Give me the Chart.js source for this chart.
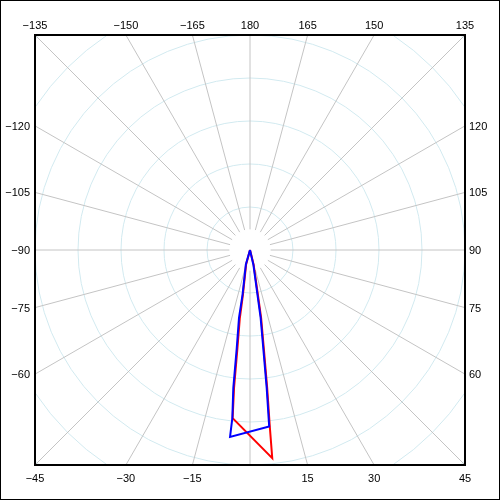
<!DOCTYPE html>
<html>
<head>
<meta charset="utf-8">
<script src="https://cdn.jsdelivr.net/npm/chart.js@4.4.1/dist/chart.umd.min.js"></script>
<style>
  html, body { margin: 0; padding: 0; background: #fff; }
</style>
</head>
<body>
<canvas id="polar" width="500" height="500"></canvas>
<script>
// angle tick labels round the square (0 is not labelled in the original)
const angleTicks = [-165, -150, -135, -120, -105, -90, -75, -60, -45, -30, -15, 15, 30, 45, 60, 75, 90, 105, 120, 135, 150, 165, 180];
const spokeAngles = [0, 15, 30, 45, 60, 75, 90, 105, 120, 135, 150, 165, 180, 195, 210, 225, 240, 255, 270, 285, 300, 315, 330, 345];
const ringRadii = [1, 2, 3, 4, 5, 6, 7];
const radialMax = 5;

// blue trace: angle in degrees (0 = down, 90 = right), radius in ring units
const blueAngles = [-20, -16, -9.5, -9.2, -7.7, -6.9, -6.0, -6.1, 6.2, 6.9, 7.7, 8.9, 9.5, 13, 20];
const blueRadii  = [0, 0.35, 1.05, 1.6, 2.3, 3.23, 3.93, 4.37, 4.13, 3.23, 2.3, 1.6, 1.05, 0.35, 0];

// red trace
const redAngles = [-20, -15, -9.0, -8.5, -7.3, -6.6, -5.9, 6.1, 6.4, 7.1, 8.0, 9.3, 10, 14, 20];
const redRadii  = [0, 0.35, 1.05, 1.6, 2.3, 3.23, 3.93, 4.87, 4.13, 3.23, 2.3, 1.6, 1.05, 0.35, 0];

function toXY(angles, radii) {
  return angles.map((a, i) => {
    const t = a * Math.PI / 180;
    return { x: radii[i] * Math.sin(t), y: -radii[i] * Math.cos(t) };
  });
}

// draws the polar grid, frame and angle labels
const polarGrid = {
  id: "polarGrid",
  beforeDatasetsDraw(chart) {
    const ctx = chart.ctx;
    const area = chart.chartArea;
    const sx = chart.scales.x, sy = chart.scales.y;
    const cx = sx.getPixelForValue(0), cy = sy.getPixelForValue(0);
    const unit = sx.getPixelForValue(1) - cx;

    ctx.save();
    ctx.beginPath();
    ctx.rect(area.left, area.top, area.right - area.left, area.bottom - area.top);
    ctx.clip();

    ctx.strokeStyle = "#d2eaf0";
    ctx.lineWidth = 1;
    ringRadii.forEach((r) => {
      ctx.beginPath();
      ctx.arc(cx, cy, r * unit, 0, Math.PI * 2);
      ctx.stroke();
    });

    ctx.strokeStyle = "#c4c4c4";
    spokeAngles.forEach((a) => {
      const t = a * Math.PI / 180;
      const dx = Math.sin(t), dy = Math.cos(t);
      ctx.beginPath();
      ctx.moveTo(cx + dx * 0.48 * unit, cy + dy * 0.48 * unit);
      ctx.lineTo(cx + dx * 9 * unit, cy + dy * 9 * unit);
      ctx.stroke();
    });
    ctx.restore();
  },
  afterDatasetsDraw(chart) {
    const ctx = chart.ctx;
    const area = chart.chartArea;
    const cx = (area.left + area.right) / 2, cy = (area.top + area.bottom) / 2;
    const half = (area.right - area.left) / 2;

    ctx.save();
    ctx.strokeStyle = "#000";
    ctx.lineWidth = 2;
    ctx.strokeRect(area.left, area.top, area.right - area.left, area.bottom - area.top);
    ctx.lineWidth = 1;
    ctx.strokeRect(0.5, 0.5, chart.width - 1, chart.height - 1);

    ctx.fillStyle = "#000";
    ctx.font = "11px 'Liberation Sans', Arial, sans-serif";
    angleTicks.forEach((a) => {
      const t = a * Math.PI / 180;
      const s = Math.sin(t), c = Math.cos(t);
      const text = String(a).replace("-", "\u2212");
      let x, y;
      if (Math.abs(c) >= Math.abs(s) - 1e-9) {
        ctx.textAlign = "center";
        ctx.textBaseline = "middle";
        x = cx + half * s / Math.abs(c);
        y = c > 0 ? area.bottom + 13 : area.top - 10;
      } else {
        ctx.textBaseline = "middle";
        y = cy + half * c / Math.abs(s);
        if (s < 0) { ctx.textAlign = "right"; x = area.left - 5; }
        else { ctx.textAlign = "left"; x = area.right + 4; }
      }
      ctx.fillText(text, x, y + 1);
    });
    ctx.restore();
  }
};

new Chart(document.getElementById("polar"), {
  type: "scatter",
  data: {
    datasets: [
      {
        label: "blue",
        data: toXY(blueAngles, blueRadii),
        showLine: true,
        borderColor: "#0000ff",
        borderWidth: 2,
        pointRadius: 0,
        tension: 0,
        order: 0
      },
      {
        label: "red",
        data: toXY(redAngles, redRadii),
        showLine: true,
        borderColor: "#ff0000",
        borderWidth: 2,
        pointRadius: 0,
        tension: 0,
        order: 1
      }
    ]
  },
  options: {
    responsive: false,
    animation: false,
    devicePixelRatio: 1,
    layout: { padding: { left: 35, right: 35, top: 35, bottom: 35 } },
    scales: {
      x: { type: "linear", min: -radialMax, max: radialMax, display: false },
      y: { type: "linear", min: -radialMax, max: radialMax, display: false }
    },
    plugins: {
      legend: { display: false },
      tooltip: { enabled: false }
    }
  },
  plugins: [polarGrid]
});
</script>
</body>
</html>
